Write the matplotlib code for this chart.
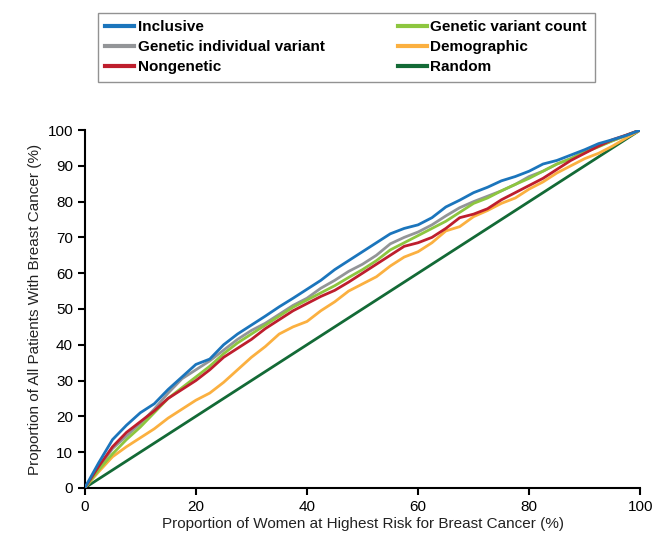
import numpy as np
import matplotlib.pyplot as plt

plt.rcParams['font.family'] = ['Liberation Sans', 'DejaVu Sans']

# Proportion of women at highest risk (%)
x_pct = [0, 2.5, 5, 7.5, 10, 12.5, 15, 17.5, 20, 22.5, 25, 27.5, 30, 32.5, 35, 37.5,
         40, 42.5, 45, 47.5, 50, 52.5, 55, 57.5, 60, 62.5, 65, 67.5, 70, 72.5, 75,
         77.5, 80, 82.5, 85, 87.5, 90, 92.5, 95, 97.5, 100]

inclusive = [0, 7, 13.5, 17.5, 21, 23.5, 27.5, 31, 34.5, 36, 40, 43, 45.5, 48, 50.6, 53,
             55.5, 58, 61, 63.5, 66, 68.5, 71, 72.5, 73.5, 75.5, 78.5, 80.4, 82.5, 84,
             85.8, 87, 88.5, 90.5, 91.5, 93, 94.5, 96.2, 97.3, 98.5, 100]
genetic_individual = [0, 5.5, 11, 14.5, 18, 22, 26.5, 30.5, 33, 35.5, 38.5, 41.5, 44, 46,
                      48.5, 51, 53, 55.8, 58, 60.5, 62.5, 65, 68.2, 70, 71.5, 73.5, 76,
                      78.3, 80, 81.5, 83, 84.8, 87, 88.5, 90.5, 92, 94, 95.5, 97, 98.5, 100]
genetic_count = [0, 5, 9.5, 13.5, 17, 21, 25, 28, 31, 34, 37.5, 40.5, 43, 45.5, 48, 50.5,
                 52.5, 54.5, 56.5, 58.8, 61, 63.5, 66.5, 68.5, 70.5, 72.5, 74.5, 77, 79.5,
                 81, 83, 84.8, 86.5, 88.5, 90.5, 92, 93.8, 95.3, 97, 98.5, 100]
nongenetic = [0, 6, 11.5, 15.5, 18.5, 21.5, 25, 27.5, 30, 33, 36.5, 39, 41.5, 44.5, 47,
              49.5, 51.5, 53.5, 55.2, 57.5, 60, 62.5, 65, 67.5, 68.5, 70, 72.5, 75.5, 76.5,
              78, 80.5, 82.5, 84.5, 86.5, 89, 91.5, 93.5, 95.5, 97.3, 98.6, 100]
demographic = [0, 4.5, 8.7, 11.5, 14, 16.5, 19.5, 22, 24.5, 26.5, 29.5, 33, 36.5, 39.5, 43,
               45, 46.5, 49.5, 52, 55, 57, 59, 62, 64.5, 66, 68.5, 71.8, 73, 75.8, 77.5,
               79.5, 81, 83.5, 85.5, 88, 90, 92, 93.5, 95.5, 97.8, 100]
random_x = [0, 100]
random_y = [0, 100]

fig = plt.figure(figsize=(6.52, 5.35), dpi=100)
ax = fig.add_axes([0.130, 0.088, 0.852, 0.669])

lw = 2.0
h_rand, = ax.plot(random_x, random_y, color='#136a36', lw=lw, label='Random', zorder=2)
h_demo, = ax.plot(x_pct, demographic, color='#fbb040', lw=lw, label='Demographic', zorder=3)
h_count, = ax.plot(x_pct, genetic_count, color='#8dc63f', lw=lw, label='Genetic variant count', zorder=4)
h_indiv, = ax.plot(x_pct, genetic_individual, color='#939598', lw=lw, label='Genetic individual variant', zorder=3.5)
h_non, = ax.plot(x_pct, nongenetic, color='#be1e2d', lw=lw, label='Nongenetic', zorder=4.5)
h_inc, = ax.plot(x_pct, inclusive, color='#1b75bc', lw=lw, label='Inclusive', zorder=5)

ax.set_xlim(0, 100)
ax.set_ylim(0, 100)
ax.set_xticks(np.arange(0, 101, 20))
ax.set_yticks(np.arange(0, 101, 10))
ax.spines['top'].set_visible(False)
ax.spines['right'].set_visible(False)
for s in ['left', 'bottom']:
    ax.spines[s].set_linewidth(1.5)
ax.tick_params(direction='out', length=5, width=1.5, labelsize=11, colors='black')
ax.set_xlabel('Proportion of Women at Highest Risk for Breast Cancer (%)', fontsize=11, labelpad=2, color='#222222')
ax.set_ylabel('Proportion of All Patients With Breast Cancer (%)', fontsize=11, labelpad=4, color='#222222')

handles = [h_inc, h_indiv, h_non, h_count, h_demo, h_rand]
leg = fig.legend(handles=handles, labels=[h.get_label() for h in handles], ncol=2,
                 loc='upper left', bbox_to_anchor=(0.150, 0.845, 0.762, 0.131), mode='expand',
                 borderaxespad=0, prop={'weight': 'bold', 'size': 11}, frameon=True,
                 fancybox=False, edgecolor='#777777', handlelength=1.9, handletextpad=0.2,
                 labelspacing=0.38, borderpad=0.5, columnspacing=1.0)
leg.get_frame().set_linewidth(1.0)
for line in leg.get_lines():
    line.set_linewidth(3)

fig.savefig('out.png', dpi=100)
